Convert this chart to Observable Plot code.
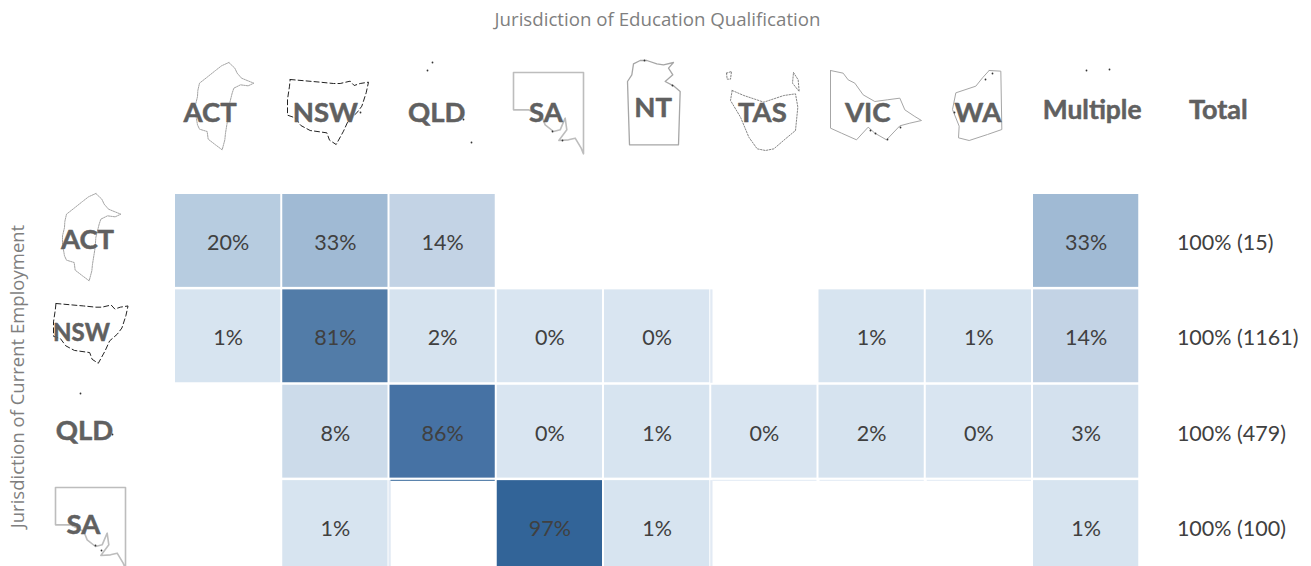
<!DOCTYPE html>
<html>
<head>
<meta charset="utf-8">
<script src="https://cdn.jsdelivr.net/npm/d3@7"></script>
<script src="https://cdn.jsdelivr.net/npm/@observablehq/plot@0.6"></script>
<style>
html,body{margin:0;padding:0;background:#fff;overflow:hidden}
#wrap{position:relative;width:1311px;height:566px;overflow:hidden}
#wrap svg{position:absolute;left:0;top:0;max-width:none}
</style>
</head>
<body>
<div id="wrap"></div>
<script>
const columns = ["ACT","NSW","QLD","SA","NT","TAS","VIC","WA","Multiple"];
const rows = ["ACT","NSW","QLD","SA"];
const actValues = [20,33,14,null,null,null,null,null,33];
const nswValues = [1,81,2,0,0,null,1,1,14];
const qldValues = [null,8,86,0,1,0,2,0,3];
const saValues  = [null,1,null,97,1,null,null,null,1];
const totals = ["100% (15)","100% (1161)","100% (479)","100% (100)"];
const xTitle = "Jurisdiction of Education Qualification";
const yTitle = "Jurisdiction of Current Employment";

// outlines, in 3x picture units
const shapeACT = [[140,38],[118,48],[100,62],[75,82],[52,100],[47,122],[46,140],[40,165],[40,190],[46,225],[52,238],[75,245],[78,268],[100,285],[120,300],[128,270],[130,250],[138,200],[140,170],[150,130],[155,115],[175,105],[198,108],[215,100],[195,92],[178,85],[165,70],[158,55],[140,38]];
const shapeNSW = [[330,90],[375,94],[420,98],[460,102],[480,102],[510,95],[522,108],[540,102],[565,98],[558,130],[545,170],[530,190],[505,212],[490,245],[468,285],[448,272],[440,250],[390,243],[362,228],[345,205],[322,197],[322,150],[328,110],[330,90]];
const shapeSA  = [[40,68],[250,68],[250,312],[243,295],[225,265],[205,270],[176,272],[200,240],[195,205],[180,240],[160,245],[135,225],[125,200],[85,180],[40,180],[40,68]];
const shapeNT  = [[400,42],[420,32],[440,32],[470,42],[490,45],[520,38],[505,55],[518,75],[495,95],[520,108],[540,125],[535,285],[388,285],[382,95],[395,75],[400,42]];
const shapeTAS = [[695,120],[730,135],[760,145],[790,155],[820,145],[850,135],[885,130],[892,170],[885,240],[855,265],[820,295],[795,300],[770,295],[745,260],[720,200],[690,150],[695,120]];
const shapeTASisle1 = [[680,70],[695,65],[692,88],[682,88],[680,70]];
const shapeTASisle2 = [[878,68],[892,90],[895,125],[875,100],[878,68]];
const shapeVIC = [[92,62],[130,70],[145,90],[165,100],[190,135],[225,155],[262,150],[300,145],[315,180],[345,200],[365,212],[330,220],[300,228],[260,270],[225,250],[205,232],[170,270],[125,250],[92,235],[92,62]];
const shapeWA  = [[570,68],[605,70],[608,245],[565,260],[510,278],[478,270],[480,235],[460,185],[470,135],[530,115],[550,90],[570,68]];

// small stray specks and dark coast blotches seen on the picture
const specks = [[432,62],[427,70],[463,119],[471,142],[1086,70],[1109,69],[80,393],[112,434],
  [875,133],[870,130],[887,139],[900,127],[992,73],[985,79],[954,112],[552,131],[562,140],[672,85],[644,60],[360,112],
  [95,545],[101,550]];

// where each traced outline sits
const placements = [
  {shape:shapeACT, left:195, top:62, k:1, stroke:"#8c8c8c", dash:"1.5,1", sw:0.8},
  {shape:shapeNSW, left:287, top:79, k:1, stroke:"#222222", dash:"5,3", sw:1},
  {shape:shapeSA,  left:513, top:72, k:1, stroke:"#bdbdbd", dash:null, sw:1.6},
  {shape:shapeNT,  left:627, top:60, k:1, stroke:"#a6a6a6", dash:null, sw:1.3},
  {shape:shapeTAS, left:730, top:90, k:1, stroke:"#777777", dash:"1.5,1.5", sw:0.9},
  {shape:shapeTASisle1, left:726, top:71, k:1, stroke:"#777777", dash:"1.5,1.5", sw:0.9},
  {shape:shapeTASisle2, left:792, top:72, k:1, stroke:"#777777", dash:"1.5,1.5", sw:0.9},
  {shape:shapeVIC, left:830, top:70, k:1, stroke:"#a6a6a6", dash:null, sw:1},
  {shape:shapeWA,  left:952, top:70, k:1, stroke:"#a6a6a6", dash:null, sw:1},
  {shape:shapeACT, left:62, top:193, k:1, stroke:"#8c8c8c", dash:"1.5,1", sw:0.8},
  {shape:shapeNSW, left:53, top:303, k:0.92, stroke:"#222222", dash:"5,3", sw:1},
  {shape:shapeSA,  left:55, top:487, k:1, stroke:"#bdbdbd", dash:null, sw:1.6}
];

// small offsets of the header and row words relative to their columns and rows
const headerNudge = {ACT:-18,NSW:-10,QLD:-6,SA:-4,NT:-4,TAS:-2,VIC:-4,WA:-1,Multiple:6};
const headerY = {ACT:113,NSW:113,QLD:113,SA:113,NT:108,TAS:113,VIC:113,WA:113,Multiple:110};
const rowLabelX = {ACT:87,NSW:81,QLD:84,SA:83};
const rowLabelDy = {ACT:-1,NSW:-3,QLD:-1,SA:-2};
const rowLabelSize = {ACT:27.5,NSW:24,QLD:27.5,SA:27.5};

const cells = [];
[actValues,nswValues,qldValues,saValues].forEach((vals,r)=>vals.forEach((v,c)=>{
  if (v !== null) cells.push({row:rows[r],col:columns[c],value:v});
}));
const ghostTop = [["QLD","#336699"],["TAS","#e2eaf4"],["VIC","#e2eaf4"],["WA","#e2eaf4"]].map(([col,fill])=>({row:"SA",col,fill}));
const ghostLeft = [{row:"NSW",col:"TAS"},{row:"SA",col:"TAS"},{row:"SA",col:"QLD"}];

const FONT = "Lato, 'Open Sans', sans-serif";
const headerCols = [...columns,"Total"];
const headerStyle = {frameAnchor:"top",lineAnchor:"middle",fontWeight:"bold",fill:"#606060",stroke:"#606060",strokeWidth:0.5};

const main = Plot.plot({
  width:1311, height:566, margin:0,
  x:{type:"band", domain:headerCols, range:[174,1246.5], padding:0, round:false, axis:null},
  y:{type:"band", domain:rows, range:[193,574.5], padding:0, round:false, axis:null},
  color:{type:"linear", domain:[0,8,14,20,33,81,86,97],
    range:["#d9e5f1","#ccdbea","#c3d3e5","#b7cce0","#a0bad4","#527ca8","#4672a4","#326498"]},
  style:{background:"transparent", fontFamily:FONT},
  marks:[
    Plot.cell(ghostLeft,{x:"col",y:"row",fill:"#e2eaf4",insetLeft:0,insetRight:105,insetTop:1,insetBottom:1}),
    Plot.cell(ghostTop,{x:"col",y:"row",fill:"fill",insetLeft:2,insetRight:1,insetTop:0.7,insetBottom:93.7}),
    Plot.cell(cells,{x:"col",y:"row",fill:"value",insetLeft:1,insetRight:1,insetTop:1,insetBottom:1.5}),
    Plot.text(cells,{x:"col",y:"row",text:d=>`${d.value}%`,fill:"#404040",fontSize:21.5,dy:2}),
    Plot.text(rows.map((r,i)=>({row:r,label:totals[i]})),{x:()=>"Total",y:"row",text:"label",textAnchor:"start",dx:-16.5,dy:2,fill:"#404040",fontSize:21.5}),
    ...columns.map(c=>Plot.text([c],{...headerStyle,x:d=>d,text:d=>d,dx:headerNudge[c],dy:headerY[c],fontSize:c==="Multiple"?26.4:27.5})),
    Plot.text(["Total"],{...headerStyle,x:d=>d,text:d=>d,dx:25,dy:110,fontSize:27}),
    ...rows.map(r=>Plot.text([r],{frameAnchor:"left",y:d=>d,text:d=>d,textAnchor:"middle",dx:rowLabelX[r],dy:rowLabelDy[r],fontWeight:"bold",fontSize:rowLabelSize[r],fill:"#606060",stroke:"#606060",strokeWidth:0.5}))
  ]
});

const lineData = placements.flatMap((p,i)=>{
  const x0 = d3.min(p.shape,d=>d[0]), y0 = d3.min(p.shape,d=>d[1]);
  return p.shape.map(d=>({i,x:p.left+(d[0]-x0)/3*p.k,y:p.top+(d[1]-y0)/3*p.k}));
});

const overlay = Plot.plot({
  width:1311, height:566, margin:0,
  x:{type:"linear", domain:[0,1311], range:[0,1311], axis:null},
  y:{type:"linear", domain:[0,566], range:[0,566], axis:null},
  style:{background:"transparent", fontFamily:"'Open Sans', sans-serif"},
  marks:[
    ...placements.map((p,i)=>Plot.line(lineData.filter(d=>d.i===i),{x:"x",y:"y",stroke:p.stroke,strokeWidth:p.sw,strokeDasharray:p.dash,curve:"linear"})),
    Plot.dot(specks,{x:d=>d[0],y:d=>d[1],r:0.9,fill:"#333333"}),
    Plot.text([xTitle],{x:()=>657,y:()=>20,text:d=>d,fontSize:18.7,fill:"#7f7f7f"}),
    Plot.text([yTitle],{x:()=>18,y:()=>376,text:d=>d,rotate:-90,fontSize:18.5,fill:"#7f7f7f"})
  ]
});

const wrap = document.getElementById("wrap");
wrap.append(overlay);
wrap.append(main);
</script>
</body>
</html>
